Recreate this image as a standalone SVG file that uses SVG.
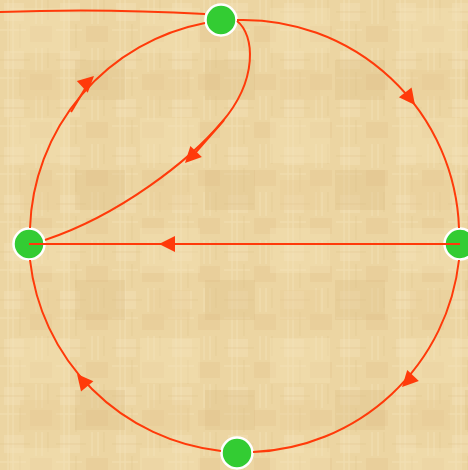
<svg xmlns="http://www.w3.org/2000/svg" width="468" height="470" viewBox="0 0 468 470">
  <defs>
    <style>
      .edge { fill: none; stroke: #ff3a0a; stroke-width: 2; }
      .ah { fill: #ff3a0a; }
      .node circle { fill: #33cc33; stroke: #ffffff; stroke-width: 2.5; }
    </style>
    <path id="ah" d="M0,0 L-16,-8 L-16,8 Z"/>
    <pattern id="tex1" width="56" height="48" patternUnits="userSpaceOnUse">
      <rect width="56" height="48" fill="#ecd5a2"/>
      <rect x="4" y="3" width="20" height="18" fill="#f2dfb3" opacity="0.5"/>
      <rect x="30" y="26" width="22" height="16" fill="#e3c690" opacity="0.4"/>
      <path d="M8,0 V48 M13,0 V48 M36,0 V24 M42,0 V24 M0,30 H26" stroke="#f5e4bb" stroke-width="1.2" opacity="0.55"/>
      <path d="M20,24 V48 M48,0 V20 M0,12 H30" stroke="#dfc28b" stroke-width="1" opacity="0.45"/>
    </pattern>
    <pattern id="tex2" width="130" height="110" patternUnits="userSpaceOnUse">
      <rect x="10" y="8" width="60" height="45" fill="#f3e2b8" opacity="0.35"/>
      <rect x="75" y="60" width="50" height="40" fill="#ddbf86" opacity="0.3"/>
      <rect x="20" y="70" width="40" height="30" fill="#e6cc96" opacity="0.35"/>
    </pattern>
  </defs>
  <rect id="background" width="468" height="470" fill="url(#tex1)"/>
  <rect width="468" height="470" fill="url(#tex2)"/>

  <g id="nodes">
    <g id="node-top" class="node"><circle cx="221" cy="20" r="15.5"/></g>
    <g id="node-left" class="node"><circle cx="29" cy="244" r="15.5"/></g>
    <g id="node-right" class="node"><circle cx="460" cy="244" r="15.5"/></g>
    <g id="node-bottom" class="node"><circle cx="237" cy="453" r="15.5"/></g>
  </g>

  <g id="connectors">
    <path class="edge" d="M0,12 Q100,8 205,14"/>
    <path class="edge" d="M30,228 A216,216 0 0 1 205,23"/>
    <path class="edge" d="M237,20 A216,216 0 0 1 459,228"/>
    <path class="edge" d="M459,260 A216,216 0 0 1 253,452"/>
    <path class="edge" d="M221,451 A216,216 0 0 1 30,260"/>
    <path class="edge" d="M237,21 C255,35 258,80 222,122 C190,160 120,215 45,240"/>
    <path class="edge" d="M460,244 L29,244"/>
    <path class="edge" d="M71,112 L86,87"/>
    <path class="edge" d="M224,120 L196,152"/>
    <use href="#ah" class="ah" transform="translate(159,244) rotate(180)"/>
    <use href="#ah" class="ah" transform="translate(415,105) rotate(52.5)"/>
    <use href="#ah" class="ah" transform="translate(402,387) rotate(133.7)"/>
    <use href="#ah" class="ah" transform="translate(77,374) rotate(230.4)"/>
    <use href="#ah" class="ah" transform="translate(94,76) rotate(-43)"/>
    <use href="#ah" class="ah" transform="translate(185,163) rotate(134)"/>
  </g>
</svg>
